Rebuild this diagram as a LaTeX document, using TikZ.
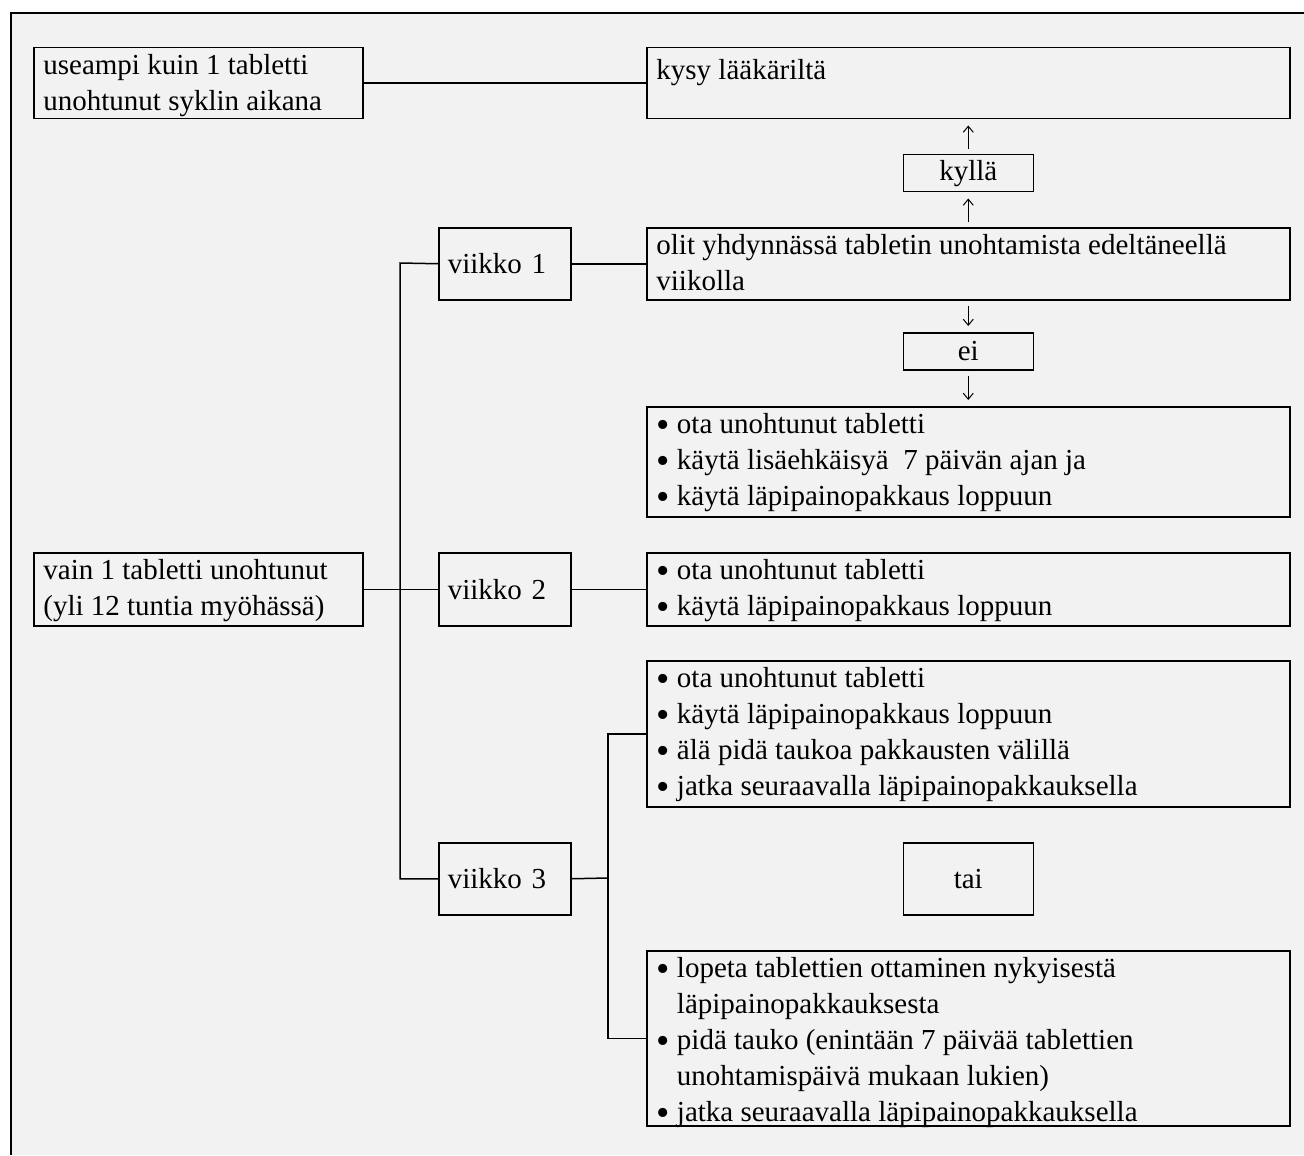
\documentclass[tikz,border=0pt]{standalone}
\usepackage{fontspec}
\setmainfont{Liberation Serif}
\usetikzlibrary{arrows.meta}
\definecolor{bg}{HTML}{F2F2F2}
\tikzset{
  every node/.style={font=\fontsize{14.5}{18}\selectfont},
  boxsize/.style 2 args={minimum width=#1*0.5pt, minimum height=#2*0.5pt},
  box/.style={draw, fill=bg, line width=0.75pt, anchor=north west, inner sep=0pt},
  week/.style={box, boxsize={132}{#1}, inner xsep=4.5pt, text width=57pt, align=left},
  txt/.style={anchor=north west, align=left, inner xsep=5pt, inner ysep=3.5pt, execute at begin node=\strut},
  link/.style={line width=0.75pt},
  arr/.style={line width=0.5pt, -{Straight Barb[length=3pt,width=5pt]}, shorten <=2.5pt, shorten >=3pt}
}
\newcommand{\itm}{\smash{\raisebox{-2.2pt}{\fontsize{19}{18}\selectfont\textbullet}}\ }
\newcommand{\ind}{\phantom{\itm}}

\begin{document}
\begin{tikzpicture}[x=0.5pt,y=-0.5pt]
    \useasboundingbox (0,0) rectangle (1304,1155);
    \fill[bg] (11,13) rectangle (1304,1155);
    \draw[link] (1304,13) -- (11,13) -- (11,1155);

    % left column
    \node[box, boxsize={329}{71}] (many) at (33,47) {};
    \node[txt] (manytext) at (many.north west) {useampi kuin 1 tabletti\\unohtunut syklin aikana};
    \node[box, boxsize={329}{73}] (only) at (33,552) {};
    \node[txt] (onlytext) at (only.north west) {vain 1 tabletti unohtunut\\(yli 12 tuntia myöhässä)};

    % weeks
    \node[week=72] (v1) at (438,227) {viikko 1};
    \node[week=73] (v2) at (438,552) {viikko 2};
    \node[week=72] (v3) at (438,842) {viikko 3};

    % right column
    \node[box, boxsize={643}{71}] (ask) at (646,47) {};
    \node[txt] (asktext) at (ask.north west) {kysy lääkäriltä};
    \node[box, boxsize={130}{37}] (yes) at (902.5,154) {kyllä};
    \node[box, boxsize={643}{72}] (had) at (646,227) {};
    \node[txt] (hadtext) at (had.north west) {olit yhdynnässä tabletin unohtamista edeltäneellä\\viikolla};
    \node[box, boxsize={130}{37}] (no) at (902.5,332) {ei};
    \node[box, boxsize={643}{110}] (b1) at (646,406) {};
    \node[txt] (b1text) at (b1.north west) {\itm ota unohtunut tabletti\\\itm käytä lisäehkäisyä\ \ 7 päivän ajan ja\\\itm käytä läpipainopakkaus loppuun};
    \node[box, boxsize={643}{73}] (b2) at (646,552) {};
    \node[txt] (b2text) at (b2.north west) {\itm ota unohtunut tabletti\\\itm käytä läpipainopakkaus loppuun};
    \node[box, boxsize={643}{146}] (b3) at (646,660) {};
    \node[txt] (b3text) at (b3.north west) {\itm ota unohtunut tabletti\\\itm käytä läpipainopakkaus loppuun\\\itm älä pidä taukoa pakkausten välillä\\\itm jatka seuraavalla läpipainopakkauksella};
    \node[box, boxsize={130}{72}] (or) at (902.5,842) {tai};
    \node[box, boxsize={643}{175}] (b4) at (646,950) {};
    \node[txt] (b4text) at (b4.north west) {\itm lopeta tablettien ottaminen nykyisestä\\\ind läpipainopakkauksesta\\\itm pidä tauko (enintään 7 päivää tablettien\\\ind unohtamispäivä mukaan lukien)\\\itm jatka seuraavalla läpipainopakkauksella};

    % connectors
    \draw[link] (many.east) -- (ask.west);
    \draw[link] (v1.east) -- (had.west);
    \draw[link] (only.east) -- (v2.west);
    \draw[link] (v2.east) -- (b2.west);
    \coordinate (trunk) at (400,263);
    \draw[link] (v1.west) -- (trunk) |- (v3.west);
    \coordinate (fork) at (608,878);
    \draw[link] (v3.east) -- (fork);
    \draw[link] (b3.west) -| (fork) |- (b4.west);

    % arrows
    \draw[arr] (had.north) -- (yes.south);
    \draw[arr] (yes.north) -- (ask.south);
    \draw[arr] (had.south) -- (no.north);
    \draw[arr] (no.south) -- (b1.north);
\end{tikzpicture}
\end{document}
